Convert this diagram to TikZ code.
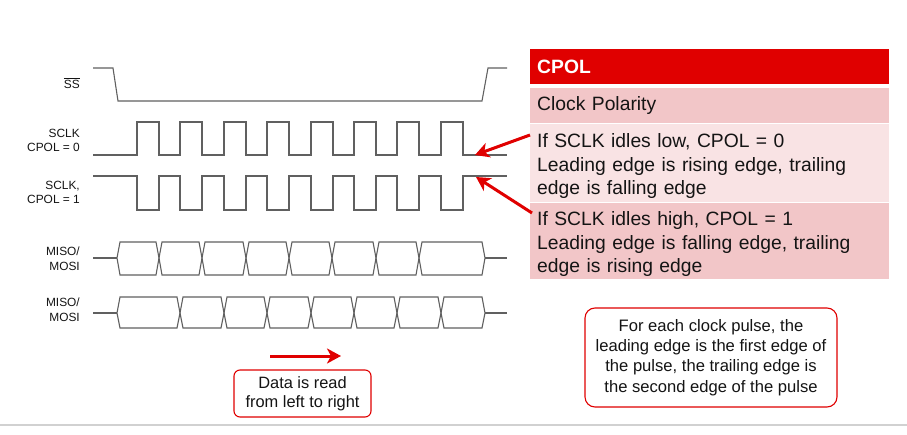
\documentclass[tikz,border=0pt]{standalone}
\usepackage{fontspec}
\setmainfont{Liberation Sans}
\usetikzlibrary{arrows.meta}
\definecolor{tired}{RGB}{224,0,0}
\definecolor{rowdark}{RGB}{242,198,200}
\definecolor{rowlight}{RGB}{249,227,228}
\definecolor{wavegray}{RGB}{96,96,96}
\definecolor{inkblk}{RGB}{20,20,20}
\begin{document}
\begin{tikzpicture}[x=1pt,y=-1pt,
	wave/.style={draw=wavegray,line width=1.1pt,line join=miter},
	siglbl/.style={anchor=east,align=right,inner sep=0pt,text=inkblk,font=\fontsize{11.9}{14.8}\selectfont},
	cell/.style={anchor=north west,minimum width=359pt,text width=345pt,inner xsep=7pt,inner ysep=0pt,align=left,text=inkblk,font=\fontsize{19.3}{23.5}\selectfont},
	tallcell/.style={cell,execute at begin node={\rule{0pt}{20pt}}},
	redarrow/.style={draw=tired,line width=3pt,-{Stealth[length=14pt,width=15pt,inset=4pt]}},
	rbox/.style={draw=tired,line width=1.1pt,fill=white,align=center,inner sep=2pt,text=inkblk}]
		\useasboundingbox (0,0) rectangle (907,435);
		\draw[black!18,line width=1.5pt] (0,425) -- (907,425);
		% signal names
		\node[siglbl] (lblss) at (80,83) {$\overline{\hbox{SS}}$};
		\node[siglbl] (lblclk0) at (80,140.5) {SCLK\\CPOL = 0};
		\node[siglbl] (lblclk1) at (80,192.5) {SCLK,\\CPOL = 1};
		\node[siglbl] (lbldata0) at (80,259) {MISO/\\MOSI};
		\node[siglbl] (lbldata1) at (80,309.5) {MISO/\\MOSI};
		% waveforms
		\draw[wave] (93,68) -- (113,68) -- (118,101) -- (482,101) -- (488,68) -- (507,68);
		\draw[wave] (93,155) \foreach \r in {137,180,224,267,311,354,397,441} { -- (\r,155) -- (\r,122) -- (\r+22,122) -- (\r+22,155) } -- (507,155);
		\draw[wave] (93,176) \foreach \r in {137,180,224,267,311,354,397,441} { -- (\r,176) -- (\r,210) -- (\r+22,210) -- (\r+22,176) } -- (507,176);
		\draw[wave] (93,258) -- (117,258) (485,258) -- (507,258);
		\foreach \a/\b in {117/159,159/202,202/246,246/289,289/332,332/376,376/419,419/485}
			\draw[wave] (\a,258) -- (\a+3,242) -- (\b-3,242) -- (\b,258) -- (\b-3,275) -- (\a+3,275) -- cycle;
		\draw[wave] (93,313) -- (117,313) (485,313) -- (507,313);
		\foreach \a/\b in {117/180,180/224,224/267,267/311,311/354,354/397,397/441,441/485}
			\draw[wave] (\a,313) -- (\a+3,297) -- (\b-3,297) -- (\b,313) -- (\b-3,328) -- (\a+3,328) -- cycle;
		% CPOL table
		\node[cell,fill=tired,minimum height=35pt,text=white,font=\fontsize{19.3}{23.5}\selectfont\bfseries] (hdr) at (530,49) {CPOL};
		\node[cell,fill=rowdark,minimum height=35pt] (polrow) at (530,88) {Clock Polarity};
		\node[tallcell,fill=rowlight,minimum height=78pt] (lowrow) at (530,124) {If SCLK idles low, CPOL = 0\\Leading edge is rising edge, trailing\\edge is falling edge};
		\node[tallcell,fill=rowdark,minimum height=76pt] (highrow) at (530,203) {If SCLK idles high, CPOL = 1\\Leading edge is falling edge, trailing\\edge is rising edge};
		\path
		(530,135) coordinate (lowtail)
		(475,155) coordinate (lowtip)
		(532,213) coordinate (hightail)
		(476,177) coordinate (hightip)
		(270,356) coordinate (rdtail)
		(341,356) coordinate (rdtip);
		\draw[redarrow] (lowtail) -- (lowtip);
		\draw[redarrow] (hightail) -- (hightip);
		\draw[redarrow] (rdtail) -- (rdtip);
		% notes
		\node[rbox,rounded corners=6pt,minimum width=137pt,minimum height=47pt,font=\fontsize{16.4}{19}\selectfont] (readnote) at (302.5,393.5) {Data is read\\from left to right};
		\node[rbox,rounded corners=10pt,minimum width=252pt,minimum height=99pt,font=\fontsize{16.6}{20.3}\selectfont] (edgenote) at (711,357.5) {For each clock pulse, the\\leading edge is the first edge of\\the pulse, the trailing edge is\\the second edge of the pulse};
\end{tikzpicture}
\end{document}
